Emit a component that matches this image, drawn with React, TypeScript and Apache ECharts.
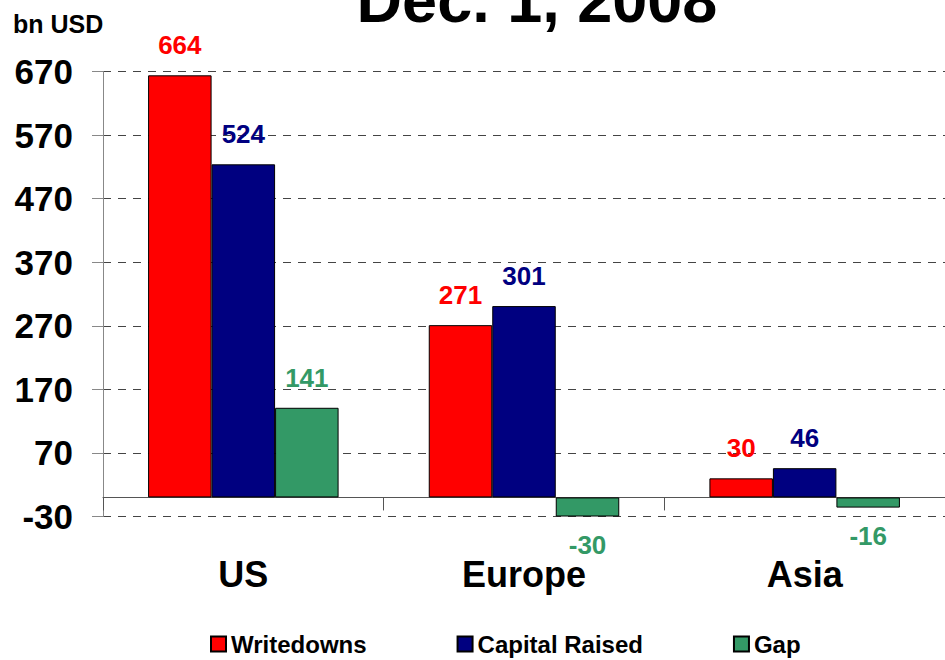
import React, { useEffect, useRef } from "react";
import * as echarts from "echarts";

// Bank writedowns vs. capital raised by region, bn USD
const regions = ["US", "Europe", "Asia"];
const writedowns = [664, 271, 30];
const capitalRaised = [524, 301, 46];
const gap = [141, -30, -16];
const yTickLabels = ["-30", "70", "170", "270", "370", "470", "570", "670"];

const FONT = '"Liberation Sans", Arial, sans-serif';

const RED = "#FF0000";
const NAVY = "#000080";
const GREEN = "#339966";

function barSeries(name: string, values: number[], color: string) {
  return {
    name,
    type: "bar",
    barWidth: 63.5,
    barGap: "0%",
    itemStyle: { color, borderColor: "#000", borderWidth: 1 },
    label: {
      show: true,
      position: "top",
      distance: 20,
      color,
      fontFamily: FONT,
      fontWeight: "bold",
      fontSize: 26,
      lineHeight: 20,
    },
    // negative values carry their label beneath the bar
    data: values.map((v) =>
      v < 0 ? { value: v, label: { position: "bottom", distance: 18 } } : { value: v }
    ),
  };
}

export default function App() {
  const ref = useRef<HTMLDivElement>(null);

  useEffect(() => {
    if (!ref.current) return;
    const chart = echarts.init(ref.current, null, { renderer: "svg" });
    chart.setOption({
      animation: false,
      backgroundColor: "#fff",
      grid: { left: 103, width: 846, top: 71.5, height: 445, containLabel: false },
      graphic: [
        {
          type: "text",
          x: 537,
          y: 0,
          style: {
            text: "Dec. 1, 2008",
            fontFamily: FONT,
            fontWeight: "bold",
            fontSize: 63,
            fill: "#000",
            align: "center",
            verticalAlign: "middle",
            textAlign: "center",
            textVerticalAlign: "middle",
          },
        },
        {
          type: "text",
          x: 13,
          y: 24,
          style: {
            text: "bn USD",
            fontFamily: FONT,
            fontWeight: "bold",
            fontSize: 25,
            fill: "#000",
            align: "left",
            verticalAlign: "middle",
            textAlign: "left",
            textVerticalAlign: "middle",
          },
        },
      ],
      legend: {
        left: 210,
        top: 632,
        padding: 0,
        icon: "rect",
        itemWidth: 15,
        itemHeight: 15,
        itemGap: 90,
        textStyle: { fontFamily: FONT, fontWeight: "bold", fontSize: 24, color: "#000" },
        data: ["Writedowns", "Capital Raised", "Gap"],
      },
      xAxis: {
        type: "category",
        data: regions,
        axisLine: { onZero: true, lineStyle: { color: "#555", width: 1 } },
        axisTick: { show: true, length: 13, lineStyle: { color: "#555" } },
        axisLabel: {
          margin: 43,
          color: "#000",
          fontFamily: FONT,
          fontWeight: "bold",
          fontSize: 36,
          lineHeight: 30,
        },
        splitLine: { show: false },
      },
      yAxis: {
        type: "value",
        min: -30,
        max: 670,
        interval: 100,
        axisLine: { show: true, lineStyle: { color: "#888", width: 1 } },
        axisTick: { show: true, length: 11, lineStyle: { color: "#888" } },
        axisLabel: {
          margin: 30,
          color: "#000",
          fontFamily: FONT,
          fontWeight: "bold",
          fontSize: 35,
          formatter: (v: number) => {
            const i = Math.round((v + 30) / 100);
            return yTickLabels[i] ?? String(v);
          },
        },
        splitLine: { show: true, lineStyle: { color: "#444", type: [8, 7], width: 1 } },
      },
      series: [
        barSeries("Writedowns", writedowns, RED),
        barSeries("Capital Raised", capitalRaised, NAVY),
        barSeries("Gap", gap, GREEN),
      ],
    });
    return () => chart.dispose();
  }, []);

  return (
    <div
      ref={ref}
      style={{ position: "fixed", left: 0, top: 0, width: 945, height: 660 }}
    />
  );
}
